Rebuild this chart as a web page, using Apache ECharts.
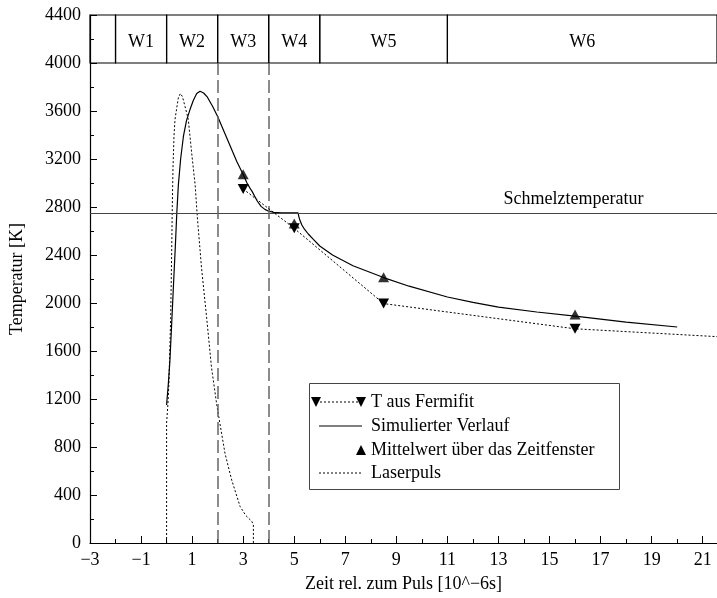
<!DOCTYPE html>
<html>
<head>
<meta charset="utf-8">
<script src="https://cdn.jsdelivr.net/npm/echarts@6/dist/echarts.min.js"></script>
<style>html,body{margin:0;padding:0;background:#fff}#c{width:717px;height:598px}</style>
</head>
<body>
<div id="c"></div>
<script>
// ---- data ----
const xTicks = [-3, -1, 1, 3, 5, 7, 9, 11, 13, 15, 17, 19, 21];
const yTicks = [0, 400, 800, 1200, 1600, 2000, 2400, 2800, 3200, 3600, 4000, 4400];
const windowNames = ['', 'W1', 'W2', 'W3', 'W4', 'W5', 'W6'];
const windowBounds = [-3, -2, 0, 2, 4, 6, 11, 21.56];
const dashedBounds = [2, 4];
const meltTemp = 2750;
const meltLabel = 'Schmelztemperatur';

const fermiX = [3.0, 5.0, 8.5, 16.0, 24.0];
const fermiY = [2950, 2622, 1995, 1785, 1691];

const meanX = [3.0, 5.0, 8.5, 16.0];
const meanY = [3073, 2663, 2215, 1905];

const simX = [0, 0.07, 0.13, 0.2, 0.27, 0.34, 0.40, 0.46, 0.55, 0.66, 0.78, 0.92, 1.05, 1.18, 1.31, 1.45, 1.6, 1.8, 2.0, 2.25, 2.5, 2.75, 3.0, 3.15, 3.27, 3.35, 3.45, 3.55, 3.7, 3.85, 4.0, 4.2, 4.5, 5.15, 5.18, 5.23, 5.3, 5.4, 5.55, 5.75, 6.0, 6.5, 7.3, 8.5, 9.5, 11, 12, 13, 14.5, 16, 18, 20];
const simY = [1150, 1330, 1520, 1830, 2150, 2460, 2750, 2980, 3200, 3390, 3520, 3614, 3690, 3745, 3765, 3750, 3715, 3640, 3555, 3430, 3305, 3180, 3070, 3000, 2955, 2930, 2890, 2850, 2805, 2780, 2765, 2755, 2752, 2752, 2720, 2685, 2650, 2615, 2575, 2530, 2475, 2400, 2310, 2212, 2140, 2050, 2005, 1965, 1925, 1890, 1840, 1800];

const laserX = [0, 0.0, 0.05, 0.09, 0.16, 0.2, 0.22, 0.25, 0.29, 0.33, 0.39, 0.46, 0.54, 0.62, 0.72, 0.85, 0.98, 1.12, 1.21, 1.37, 1.57, 1.76, 1.96, 2.09, 2.29, 2.55, 2.88, 3.1, 3.34, 3.4, 3.4];
const laserY = [0, 1000, 1150, 1320, 1880, 2430, 2760, 3117, 3393, 3530, 3614, 3710, 3746, 3720, 3640, 3530, 3255, 2980, 2700, 2290, 1876, 1462, 1160, 993, 745, 525, 304, 230, 180, 150, 0];

const legendNames = ['T aus Fermifit', 'Simulierter Verlauf', 'Mittelwert über das Zeitfenster', 'Laserpuls'];
const xTitle = 'Zeit rel. zum Puls [10^\u22126s]';
const yTitle = 'Temperatur [K]';

// ---- build ----
const zip = (a, b) => a.map((v, i) => [v, b[i]]);
const FONT = 'Liberation Serif';
const fs = 18;

const areas = [];
for (let i = 0; i < windowNames.length; i++) {
  areas.push([
    { name: windowNames[i], xAxis: windowBounds[i], yAxis: 4000 },
    { xAxis: windowBounds[i + 1], yAxis: 4400 }
  ]);
}

function tri(x, y, down) {
  const h = 5;
  return {
    type: 'polygon',
    shape: { points: down ? [[x - h, y - h], [x + h, y - h], [x, y + h]] : [[x - h, y + h], [x + h, y + h], [x, y - h]] },
    style: { fill: '#000' }
  };
}

const lx0 = 309.5, ly0 = 383.5, rowY = [402, 426, 450, 473];
const legendGraphic = [
  { type: 'rect', shape: { x: lx0, y: ly0, width: 310, height: 106 }, style: { fill: '#fff', stroke: '#444', lineWidth: 1 }, z: 100 },
  { type: 'line', shape: { x1: 316, y1: rowY[0], x2: 361, y2: rowY[0] }, style: { stroke: '#000', lineWidth: 1, lineDash: [2, 2] }, z: 101 },
  Object.assign(tri(316, rowY[0], true), { z: 102 }),
  Object.assign(tri(361, rowY[0], true), { z: 102 }),
  { type: 'line', shape: { x1: 319, y1: rowY[1], x2: 362, y2: rowY[1] }, style: { stroke: '#000', lineWidth: 1 }, z: 101 },
  Object.assign(tri(361, rowY[2], false), { z: 102 }),
  { type: 'line', shape: { x1: 319, y1: rowY[3], x2: 362, y2: rowY[3] }, style: { stroke: '#000', lineWidth: 1, lineDash: [2, 2] }, z: 101 }
];
legendNames.forEach((n, i) => {
  legendGraphic.push({ type: 'text', x: 371, y: rowY[i], style: { text: n, font: fs + 'px "' + FONT + '"', fill: '#000', verticalAlign: 'middle', align: 'left' }, z: 102 });
});

const chart = echarts.init(document.getElementById('c'), null, { renderer: 'canvas' });
chart.setOption({
  animation: false,
  backgroundColor: '#fff',
  textStyle: { fontFamily: FONT },
  grid: { left: 90, right: 0, top: 15, bottom: 51, containLabel: false },
  xAxis: {
    type: 'value', min: -3, max: 21.56, interval: 2,
    name: xTitle, nameLocation: 'middle', nameGap: 32,
    nameTextStyle: { fontFamily: FONT, fontSize: fs, color: '#000' },
    axisLine: { show: true, onZero: false, lineStyle: { color: '#000', width: 1.2 } },
    axisTick: { show: true, inside: true, length: 7, lineStyle: { color: '#000' } },
    minorTick: { show: true, splitNumber: 2, length: 4, lineStyle: { color: '#000' } },
    splitLine: { show: false },
    axisLabel: {
      fontFamily: FONT, fontSize: fs, color: '#000', margin: 8, showMaxLabel: false,
      formatter: v => xTicks.indexOf(Math.round(v * 100) / 100) >= 0 ? String(v).replace('-', '\u2212') : ''
    }
  },
  yAxis: {
    type: 'value', min: 0, max: 4400, interval: 400,
    name: yTitle, nameLocation: 'middle', nameGap: 64, nameRotate: 90,
    nameTextStyle: { fontFamily: FONT, fontSize: fs, color: '#000' },
    axisLine: { show: true, onZero: false, lineStyle: { color: '#000', width: 1.2 } },
    axisTick: { show: true, inside: true, length: 7, lineStyle: { color: '#000' } },
    minorTick: { show: true, splitNumber: 2, length: 4, lineStyle: { color: '#000' } },
    splitLine: { show: false },
    axisLabel: {
      fontFamily: FONT, fontSize: fs, color: '#000', margin: 9,
      formatter: v => yTicks.indexOf(v) >= 0 ? String(v) : ''
    }
  },
  graphic: legendGraphic,
  series: [
    {
      name: 'Laserpuls', type: 'line', data: zip(laserX, laserY), showSymbol: false, symbol: 'none',
      lineStyle: { color: '#000', width: 1, type: [2, 2] }, z: 3
    },
    {
      name: 'Simulierter Verlauf', type: 'line', data: zip(simX, simY), showSymbol: false, symbol: 'none',
      lineStyle: { color: '#000', width: 1.2 }, z: 4,
      markArea: {
        silent: true,
        itemStyle: { color: 'rgba(0,0,0,0)', borderColor: '#000', borderWidth: 1.2 },
        label: { show: true, position: 'inside', offset: [0, 3], fontFamily: FONT, fontSize: fs, color: '#000', formatter: '{b}' },
        data: areas
      },
      markLine: {
        silent: true, symbol: 'none', animation: false,
        label: { show: false },
        data: [
          [{ coord: [windowBounds[0], meltTemp], lineStyle: { color: '#444', width: 1.2, type: 'solid' } }, { coord: [windowBounds[windowBounds.length - 1], meltTemp] }],
          [{ coord: [dashedBounds[0], 0], lineStyle: { color: '#666', width: 1.5, type: [13, 5] } }, { coord: [dashedBounds[0], 4000] }],
          [{ coord: [dashedBounds[1], 0], lineStyle: { color: '#666', width: 1.5, type: [13, 5] } }, { coord: [dashedBounds[1], 4000] }]
        ]
      },
      markPoint: {
        silent: true, symbol: 'circle', symbolSize: 0,
        label: { show: true, position: 'top', distance: 5, fontFamily: FONT, fontSize: fs, color: '#000', formatter: meltLabel },
        data: [{ coord: [15.94, meltTemp] }]
      }
    },
    {
      name: 'T aus Fermifit', type: 'line', data: zip(fermiX, fermiY),
      symbol: 'triangle', symbolRotate: 180, symbolSize: [11, 10], showSymbol: true, showAllSymbol: true,
      itemStyle: { color: '#000' },
      lineStyle: { color: '#000', width: 1, type: [2, 2] }, z: 5
    },
    {
      name: 'Mittelwert über das Zeitfenster', type: 'scatter', data: zip(meanX, meanY),
      symbol: 'triangle', symbolSize: [11, 10], itemStyle: { color: '#000' }, z: 6
    }
  ]
});
</script>
</body>
</html>
